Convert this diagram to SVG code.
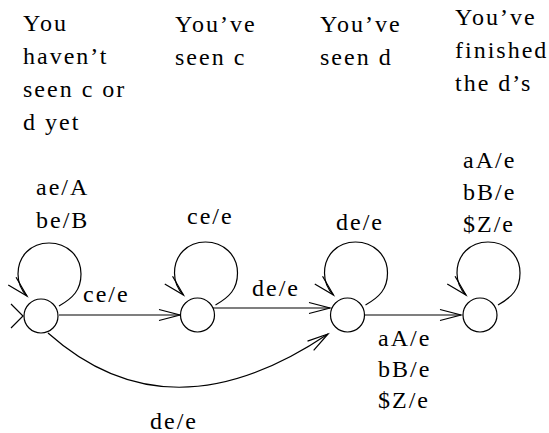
<svg xmlns="http://www.w3.org/2000/svg" width="549" height="433" viewBox="0 0 549 433">
  <style>
    text { font-family: "Liberation Serif", "Times New Roman", serif; font-size: 24px; letter-spacing: 2px; fill: #000; }
    .state { fill: #fff; stroke: #000; stroke-width: 1.2; }
    .edge { fill: none; stroke: #000; stroke-width: 1.2; }
  </style>
  <defs>
    <marker id="open" markerUnits="userSpaceOnUse" markerWidth="24" markerHeight="14" viewBox="-22 -7 24 14" refX="0" refY="0" orient="auto" overflow="visible">
      <path d="M-21,-5.5 L0,0 L-21,5.5" fill="none" stroke="#000" stroke-width="1.2"/>
    </marker>
    <!-- self-loop drawn relative to the state's centre -->
    <path id="loop" d="M18,-10 C32,-18 40,-26 40,-42 C40,-60 26,-73 8,-73 C-10,-73 -23,-60 -23,-42 C-23,-34 -20,-26 -14,-20"/>
  </defs>

  <!-- captions above each state -->
  <g id="captions">
    <text x="23" y="31">You</text>
    <text x="23" y="64">haven’t</text>
    <text x="23" y="97">seen c or</text>
    <text x="23" y="130">d yet</text>
    <text x="175" y="32">You’ve</text>
    <text x="175" y="65">seen c</text>
    <text x="320" y="32">You’ve</text>
    <text x="320" y="65">seen d</text>
    <text x="455" y="25">You’ve</text>
    <text x="455" y="58">finished</text>
    <text x="455" y="91">the d’s</text>
  </g>

  <g id="connectors">
    <!-- start marker -->
    <polyline class="edge" points="11,304 23,316 11,328"/>
    <!-- self loops -->
    <use href="#loop" class="edge" transform="translate(41,316)" marker-end="url(#open)"/>
    <use href="#loop" class="edge" transform="translate(197.5,315)" marker-end="url(#open)"/>
    <use href="#loop" class="edge" transform="translate(347.5,315)" marker-end="url(#open)"/>
    <use href="#loop" class="edge" transform="translate(480,315)" marker-end="url(#open)"/>
    <!-- transitions -->
    <line class="edge" x1="59" y1="315" x2="180" y2="315" marker-end="url(#open)"/>
    <line class="edge" x1="210" y1="308" x2="330" y2="308" marker-end="url(#open)"/>
    <line class="edge" x1="365" y1="315" x2="461" y2="315" marker-end="url(#open)"/>
    <path class="edge" d="M48,333 Q169,441 328,334" marker-end="url(#open)"/>
  </g>

  <g id="labels">
    <text x="36" y="195">ae/A</text>
    <text x="36" y="228">be/B</text>
    <text x="187" y="224">ce/e</text>
    <text x="336" y="230">de/e</text>
    <text x="463" y="168">aA/e</text>
    <text x="463" y="200">bB/e</text>
    <text x="463" y="232">$Z/e</text>
    <text x="83" y="302">ce/e</text>
    <text x="252" y="296">de/e</text>
    <text x="378" y="346">aA/e</text>
    <text x="378" y="377">bB/e</text>
    <text x="378" y="408">$Z/e</text>
    <text x="150" y="429">de/e</text>
  </g>

  <g id="s0"><circle class="state" cx="41" cy="316" r="17"/></g>
  <g id="s1"><circle class="state" cx="197.5" cy="315" r="17"/></g>
  <g id="s2"><circle class="state" cx="347.5" cy="315" r="17"/></g>
  <g id="s3"><circle class="state" cx="480" cy="315" r="17"/></g>
</svg>
